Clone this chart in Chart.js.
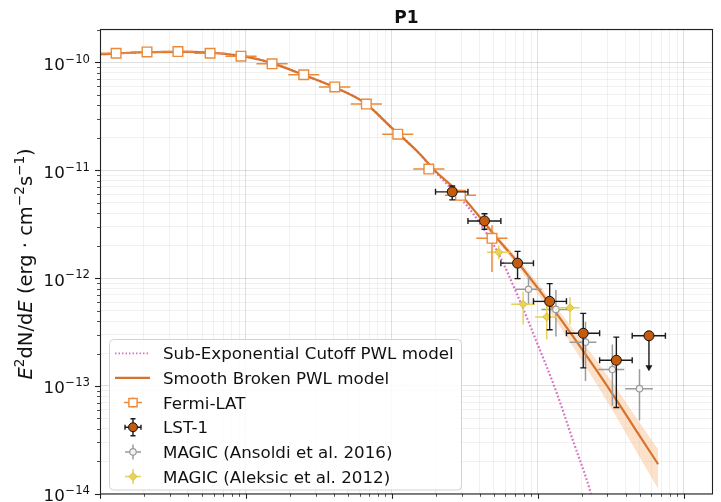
<!DOCTYPE html>
<html lang="en">
<head>
<meta charset="UTF-8">
<title>P1 - spectral energy distribution</title>
<script src="https://cdn.jsdelivr.net/npm/chart.js"></script>
<style>
  body { margin: 0; background: #fff; overflow: hidden; }
  #wrap { width: 721px; height: 502px; }
</style>
</head>
<body>
<div id="wrap"><canvas id="sed" width="721" height="502"></canvas></div>
<script>
// Energies in GeV, fluxes as E^2 dN/dE in erg cm^-2 s^-1

// Fermi-LAT
const fermiE      = [0.129, 0.210, 0.342, 0.568, 0.925, 1.51, 2.49, 4.06, 6.68, 10.97, 17.9, 29.5, 48.5];
const fermiELo    = [0.101, 0.164, 0.267, 0.444, 0.723, 1.18, 1.95, 3.17, 5.22, 8.58, 14.0, 23.1, 37.9];
const fermiEHi    = [0.165, 0.269, 0.437, 0.726, 1.183, 1.93, 3.18, 5.19, 8.54, 14.0, 22.9, 37.7, 62.0];
const fermiFlux   = [1.217e-10, 1.251e-10, 1.262e-10, 1.217e-10, 1.143e-10, 9.71e-11, 7.69e-11, 5.93e-11, 4.11e-11, 2.16e-11, 1.026e-11, 5.86e-12, 2.34e-12];
const fermiFluxLo = [1.19e-10, 1.225e-10, 1.235e-10, 1.19e-10, 1.115e-10, 9.45e-11, 7.45e-11, 5.72e-11, 3.93e-11, 2.03e-11, 9.3e-12, 5.2e-12, 1.14e-12];
const fermiFluxHi = [1.245e-10, 1.28e-10, 1.29e-10, 1.245e-10, 1.17e-10, 9.98e-11, 7.94e-11, 6.15e-11, 4.30e-11, 2.30e-11, 1.13e-11, 6.6e-12, 3.1e-12];

// LST-1
const lstE      = [25.9, 43.1, 72.6, 120.5, 204.6, 345];
const lstELo    = [19.9, 33.2, 55.8, 93.3, 157, 265];
const lstEHi    = [33.2, 55.8, 93.3, 157, 265, 443];
const lstFlux   = [6.31e-12, 3.39e-12, 1.377e-12, 6.09e-13, 3.08e-13, 1.73e-13];
const lstFluxLo = [5.32e-12, 2.84e-12, 9.9e-13, 3.32e-13, 1.47e-13, 6.32e-14];
const lstFluxHi = [7.16e-12, 3.96e-12, 1.77e-12, 8.89e-13, 4.71e-13, 2.84e-13];
// LST-1 upper limit in the last bin (arrow drawn down to lstUlArrow)
const lstUlE     = [577];
const lstUlELo   = [443];
const lstUlEHi   = [748];
const lstUlFlux  = [2.92e-13];
const lstUlArrow = [1.37e-13];

// MAGIC (Ansoldi et al. 2016)
const ansoldiE      = [86.3, 133, 212, 324, 497];
const ansoldiELo    = [70, 106, 165, 259, 397];
const ansoldiEHi    = [106, 165, 252, 391, 614];
const ansoldiFlux   = [7.89e-13, 5.13e-13, 2.55e-13, 1.42e-13, 9.44e-14];
const ansoldiFluxLo = [5.66e-13, 2.88e-13, 1.11e-13, 6.55e-14, 4.78e-14];
const ansoldiFluxHi = [1.07e-12, 7.78e-13, 3.95e-13, 2.43e-13, 1.43e-13];

// MAGIC (Aleksic et al. 2012)
const aleksicE      = [53.9, 79.3, 115, 166];
const aleksicELo    = [44.8, 65.7, 95.7, 138];
const aleksicEHi    = [64.3, 95.7, 138, 193];
const aleksicFlux   = [1.74e-12, 5.73e-13, 4.37e-13, 5.31e-13];
const aleksicFluxLo = [1.50e-12, 3.71e-13, 2.70e-13, 3.71e-13];
const aleksicFluxHi = [2.01e-12, 7.46e-13, 5.66e-13, 6.70e-13];

// Smooth broken power-law model and its uncertainty band
const sbplE    = [0.1, 0.2, 0.404, 0.7, 1.0, 1.51, 2.5, 4.0, 6.5, 9.93, 14.9, 20.5, 28.0, 38.3, 52.5, 71.8, 98.4, 134.6, 184, 252, 345, 472, 667];
const sbplFlux = [1.192e-10, 1.243e-10, 1.256e-10, 1.205e-10, 1.131e-10, 9.85e-11, 7.64e-11, 5.93e-11, 4.23e-11, 2.49e-11, 1.50e-11, 9.43e-12, 6.45e-12, 3.96e-12, 2.34e-12, 1.436e-12, 8.29e-13, 4.68e-13, 2.59e-13, 1.40e-13, 7.43e-14, 3.86e-14, 1.88e-14];
const bandE    = [28.0, 38.3, 52.5, 71.8, 98.4, 134.6, 184, 252, 345, 472, 667];
const bandHi   = [6.59e-12, 4.13e-12, 2.49e-12, 1.562e-12, 9.21e-13, 5.31e-13, 3.07e-13, 1.73e-13, 9.58e-14, 5.08e-14, 2.58e-14];
const bandLo   = [6.32e-12, 3.80e-12, 2.20e-12, 1.320e-12, 7.30e-13, 3.95e-13, 2.05e-13, 1.042e-13, 5.18e-14, 2.48e-14, 1.108e-14];

// Sub-exponential cutoff power-law model
const secplE    = [0.1, 0.2, 0.404, 0.7, 1.0, 1.51, 2.5, 4.0, 6.5, 9.93, 14.9, 20.5, 28.0, 32.7, 41.5, 53.9, 71.8, 98.4, 134.6, 175.7, 227, 252];
const secplFlux = [1.192e-10, 1.243e-10, 1.256e-10, 1.205e-10, 1.131e-10, 9.85e-11, 7.64e-11, 5.93e-11, 4.23e-11, 2.49e-11, 1.50e-11, 9.23e-12, 5.90e-12, 4.69e-12, 3.01e-12, 1.675e-12, 7.15e-13, 2.54e-13, 8.63e-14, 3.01e-14, 1.09e-14, 6.4e-15];

// y axis decade labels
const yTickExps = [-14, -13, -12, -11, -10];

const FONT = '"DejaVu Sans", sans-serif';
const C_MODEL = '#d6722a';
const C_FERMI = '#ec8a3a';
const C_LST = '#c45b0d';
const C_GREY = '#9b9b9b';
const C_YELLOW = '#e8d25a';
const C_PINK = '#d774c0';

function line(E, F) { return E.map((e, i) => ({ x: e, y: F[i] })); }
function points(E, ELo, EHi, F, FLo, FHi) {
  return E.map((e, i) => ({ x: e, y: F[i], xlo: ELo[i], xhi: EHi[i],
    ylo: FLo ? FLo[i] : undefined, yhi: FHi ? FHi[i] : undefined }));
}

function logTicks(min, max) {
  const out = [];
  for (let k = Math.floor(Math.log10(min)); k <= Math.ceil(Math.log10(max)); k++) {
    for (let m = 1; m < 10; m++) {
      const v = m * Math.pow(10, k);
      if (v >= min * 0.999 && v <= max * 1.001) out.push({ value: v, decade: m === 1 });
    }
  }
  return out;
}

// draws the x/y error bars of a dataset just before its markers
const errorBars = {
  id: 'errorBars',
  beforeDatasetDraw(chart, args) {
    const ds = chart.data.datasets[args.index];
    const eb = ds.errorBar;
    if (!eb) return;
    const { ctx, chartArea: a, scales: { x, y } } = chart;
    ctx.save();
    ctx.beginPath();
    ctx.rect(a.left, a.top, a.right - a.left, a.bottom - a.top);
    ctx.clip();
    ctx.strokeStyle = eb.color;
    ctx.fillStyle = eb.color;
    ctx.lineWidth = eb.width;
    ds.data.forEach((p, i) => {
      const px = x.getPixelForValue(p.x), py = y.getPixelForValue(p.y);
      const x0 = x.getPixelForValue(p.xlo), x1 = x.getPixelForValue(p.xhi);
      ctx.beginPath();
      ctx.moveTo(x0, py); ctx.lineTo(x1, py);
      if (eb.cap) {
        ctx.moveTo(x0, py - eb.cap); ctx.lineTo(x0, py + eb.cap);
        ctx.moveTo(x1, py - eb.cap); ctx.lineTo(x1, py + eb.cap);
      }
      if (p.ylo !== undefined) {
        const y0 = y.getPixelForValue(p.ylo), y1 = y.getPixelForValue(p.yhi);
        ctx.moveTo(px, y0); ctx.lineTo(px, y1);
        if (eb.cap) {
          ctx.moveTo(px - eb.cap, y0); ctx.lineTo(px + eb.cap, y0);
          ctx.moveTo(px - eb.cap, y1); ctx.lineTo(px + eb.cap, y1);
        }
      }
      ctx.stroke();
      if (eb.arrowTo) {
        const ya = y.getPixelForValue(eb.arrowTo[i]);
        ctx.beginPath();
        ctx.moveTo(px, py); ctx.lineTo(px, ya - 5);
        ctx.stroke();
        ctx.beginPath();
        ctx.moveTo(px - 3.5, ya - 6); ctx.lineTo(px + 3.5, ya - 6); ctx.lineTo(px, ya);
        ctx.closePath();
        ctx.fill();
      }
    });
    ctx.restore();
  }
};

function drawRich(ctx, parts, x, y, align) {
  let w = 0;
  parts.forEach(p => { ctx.font = p.font; p.w = ctx.measureText(p.t).width; w += p.w; });
  let cx = align === 'center' ? x - w / 2 : (align === 'right' ? x - w : x);
  ctx.textAlign = 'left';
  ctx.textBaseline = 'alphabetic';
  parts.forEach(p => { ctx.font = p.font; ctx.fillText(p.t, cx, y + (p.dy || 0)); cx += p.w; });
}

// frame, ticks, labels, title and legend
const decorations = {
  id: 'decorations',
  afterDraw(chart) {
    const { ctx, chartArea: a, scales: { x, y } } = chart;
    ctx.save();
    ctx.fillStyle = '#111';
    ctx.strokeStyle = '#222';

    // tick marks
    y.ticks.forEach(t => {
      const py = Math.round(y.getPixelForValue(t.value)) + 0.5;
      ctx.lineWidth = t.decade ? 1.1 : 0.8;
      ctx.beginPath(); ctx.moveTo(a.left, py); ctx.lineTo(a.left - (t.decade ? 5 : 3), py); ctx.stroke();
    });
    x.ticks.forEach(t => {
      const px = Math.round(x.getPixelForValue(t.value)) + 0.5;
      ctx.lineWidth = t.decade ? 1.1 : 0.8;
      ctx.beginPath(); ctx.moveTo(px, a.bottom); ctx.lineTo(px, a.bottom + (t.decade ? 5 : 3)); ctx.stroke();
    });

    // spines
    ctx.lineWidth = 1.1;
    ctx.strokeRect(Math.round(a.left) + 0.5, Math.round(a.top) - 0.5, Math.round(a.right - a.left) - 1, Math.round(a.bottom - a.top) + 0.5);

    // y decade labels
    yTickExps.forEach(e => {
      const py = y.getPixelForValue(Math.pow(10, e));
      ctx.font = '11.7px ' + FONT;
      const sup = '\u2212' + Math.abs(e);
      const sw = ctx.measureText(sup).width;
      ctx.textAlign = 'right';
      ctx.textBaseline = 'alphabetic';
      ctx.fillText(sup, 90, py + 0.3);
      ctx.font = '16.7px ' + FONT;
      ctx.fillText('10', 90 - sw - 0.5, py + 7.4);
    });

    // title
    ctx.font = 'bold 17px ' + FONT;
    ctx.textAlign = 'center';
    ctx.fillText('P1', (a.left + a.right) / 2, 22.7);

    // y axis label
    ctx.save();
    ctx.translate(32, (a.top + a.bottom) / 2 + 2);
    ctx.rotate(-Math.PI / 2);
    const R = '19.5px ' + FONT, I = 'italic 19.5px ' + FONT, S = '13.6px ' + FONT;
    drawRich(ctx, [
      { t: 'E', font: I }, { t: '2', font: S, dy: -8 }, { t: 'dN/d', font: R }, { t: 'E', font: I },
      { t: ' (erg \u00b7 cm', font: R }, { t: '\u22122', font: S, dy: -8 }, { t: 's', font: R },
      { t: '\u22121', font: S, dy: -8 }, { t: ')', font: R }
    ], 0, 0, 'center');
    ctx.restore();

    // legend
    const lx = 109.5, ly = 339.5, lw = 352, lh = 150.5;
    ctx.beginPath();
    ctx.roundRect(lx, ly, lw, lh, 4);
    ctx.fillStyle = 'rgba(255,255,255,0.85)';
    ctx.fill();
    ctx.strokeStyle = '#d2d2d2';
    ctx.lineWidth = 1;
    ctx.stroke();

    const rows = ['Sub-Exponential Cutoff PWL model', 'Smooth Broken PWL model', 'Fermi-LAT', 'LST-1',
      'MAGIC (Ansoldi et al. 2016)', 'MAGIC (Aleksic et al. 2012)'];
    const hx = 133, tx = 163;
    rows.forEach((label, i) => {
      const ry = 353.3 + i * 24.65;
      ctx.fillStyle = '#111';
      ctx.font = '16.7px ' + FONT;
      ctx.textAlign = 'left';
      ctx.textBaseline = 'alphabetic';
      ctx.fillText(label, tx, ry + 6);
    });
    const H = Chart.helpers;
    let ry = 353.3;
    ctx.save();
    ctx.setLineDash([1.5, 2]);
    ctx.strokeStyle = C_PINK; ctx.lineWidth = 1.8;
    ctx.beginPath(); ctx.moveTo(115, ry); ctx.lineTo(148, ry); ctx.stroke();
    ctx.restore();
    ry += 24.65;
    ctx.strokeStyle = C_MODEL; ctx.lineWidth = 2.2;
    ctx.beginPath(); ctx.moveTo(115, ry); ctx.lineTo(150, ry); ctx.stroke();

    const legendPoint = (cy, c, w, hx0, vy0, cap, style) => {
      ctx.strokeStyle = c; ctx.lineWidth = w;
      ctx.beginPath();
      ctx.moveTo(hx - hx0, cy); ctx.lineTo(hx + hx0, cy);
      ctx.moveTo(hx, cy - vy0); ctx.lineTo(hx, cy + vy0);
      if (cap) {
        ctx.moveTo(hx - hx0, cy - cap); ctx.lineTo(hx - hx0, cy + cap);
        ctx.moveTo(hx + hx0, cy - cap); ctx.lineTo(hx + hx0, cy + cap);
        ctx.moveTo(hx - cap, cy - vy0); ctx.lineTo(hx + cap, cy - vy0);
        ctx.moveTo(hx - cap, cy + vy0); ctx.lineTo(hx + cap, cy + vy0);
      }
      ctx.stroke();
      ctx.fillStyle = style.fill; ctx.strokeStyle = style.stroke; ctx.lineWidth = style.bw;
      H.drawPoint(ctx, { pointStyle: style.ps, radius: style.r, rotation: 0, borderWidth: style.bw }, hx, cy);
    };
    ry += 24.65;
    legendPoint(ry, C_FERMI, 1.5, 9, 5, 0, { fill: '#fff', stroke: C_FERMI, bw: 1.4, ps: 'rect', r: 5.8 });
    ry += 24.65;
    legendPoint(ry, '#1a1a1a', 1.4, 8, 8.5, 2.5, { fill: C_LST, stroke: '#111', bw: 1, ps: 'circle', r: 4.5 });
    ry += 24.65;
    legendPoint(ry, C_GREY, 1.5, 8, 7.5, 0, { fill: '#f2f2f2', stroke: C_GREY, bw: 1.2, ps: 'circle', r: 3.2 });
    ry += 24.65;
    legendPoint(ry, C_YELLOW, 1.5, 8, 7.5, 0, { fill: C_YELLOW, stroke: '#d8bf3a', bw: 1, ps: 'rectRot', r: 4 });

    ctx.restore();
  }
};

const gridColor = c => (c.tick && c.tick.decade) ? 'rgba(0,0,0,0.12)' : 'rgba(0,0,0,0.055)';

new Chart(document.getElementById('sed'), {
  type: 'scatter',
  data: {
    datasets: [
      { data: line(bandE, bandHi), showLine: true, pointRadius: 0, borderWidth: 0,
        backgroundColor: 'rgba(249,184,130,0.42)', fill: '+1', order: 20 },
      { data: line(bandE, bandLo), showLine: true, pointRadius: 0, borderWidth: 0, fill: false, order: 20 },
      // dotted model sits under the solid one where they coincide
      { data: line(secplE, secplFlux), showLine: true, pointRadius: 0, borderColor: C_PINK, borderWidth: 2.2,
        borderDash: [1.8, 2], cubicInterpolationMode: 'monotone', order: 16 },
      { data: line(sbplE, sbplFlux), showLine: true, pointRadius: 0, borderColor: C_MODEL, borderWidth: 2.2,
        cubicInterpolationMode: 'monotone', order: 15 },
      { data: points(ansoldiE, ansoldiELo, ansoldiEHi, ansoldiFlux, ansoldiFluxLo, ansoldiFluxHi),
        pointStyle: 'circle', pointRadius: 3.2, pointBackgroundColor: '#f2f2f2', pointBorderColor: C_GREY,
        pointBorderWidth: 1.2, errorBar: { color: C_GREY, width: 1.5 }, order: 9 },
      { data: points(aleksicE, aleksicELo, aleksicEHi, aleksicFlux, aleksicFluxLo, aleksicFluxHi),
        pointStyle: 'rectRot', pointRadius: 4, pointBackgroundColor: C_YELLOW, pointBorderColor: '#d8bf3a',
        pointBorderWidth: 1, errorBar: { color: C_YELLOW, width: 1.5 }, order: 8 },
      { data: points(fermiE, fermiELo, fermiEHi, fermiFlux, fermiFluxLo, fermiFluxHi),
        pointStyle: 'rect', pointRadius: 6.8, pointBackgroundColor: '#fff', pointBorderColor: C_FERMI,
        pointBorderWidth: 1.4, errorBar: { color: C_FERMI, width: 1.5 }, order: 7 },
      { data: points(lstE, lstELo, lstEHi, lstFlux, lstFluxLo, lstFluxHi),
        pointStyle: 'circle', pointRadius: 5, pointBackgroundColor: C_LST, pointBorderColor: '#111',
        pointBorderWidth: 1, errorBar: { color: '#1a1a1a', width: 1.4, cap: 3 }, order: 3 },
      { data: points(lstUlE, lstUlELo, lstUlEHi, lstUlFlux),
        pointStyle: 'circle', pointRadius: 5, pointBackgroundColor: C_LST, pointBorderColor: '#111',
        pointBorderWidth: 1, errorBar: { color: '#1a1a1a', width: 1.4, cap: 3, arrowTo: lstUlArrow }, order: 2 }
    ]
  },
  options: {
    responsive: false,
    animation: false,
    events: [],
    layout: { padding: { left: 100, top: 30, right: 4, bottom: 2 } },
    plugins: { legend: { display: false }, title: { display: false }, tooltip: { enabled: false } },
    scales: {
      x: {
        type: 'logarithmic', min: 0.1, max: 1580,
        afterBuildTicks: s => { s.ticks = logTicks(0.1, 1580); },
        ticks: { display: false },
        border: { display: false },
        grid: { drawTicks: false, color: gridColor, lineWidth: 1 }
      },
      y: {
        type: 'logarithmic', min: 1e-14, max: 2e-10,
        afterBuildTicks: s => { s.ticks = logTicks(1e-14, 2e-10); },
        ticks: { display: false },
        border: { display: false },
        grid: { drawTicks: false, color: gridColor, lineWidth: 1 }
      }
    }
  },
  plugins: [errorBars, decorations]
});
</script>
</body>
</html>
